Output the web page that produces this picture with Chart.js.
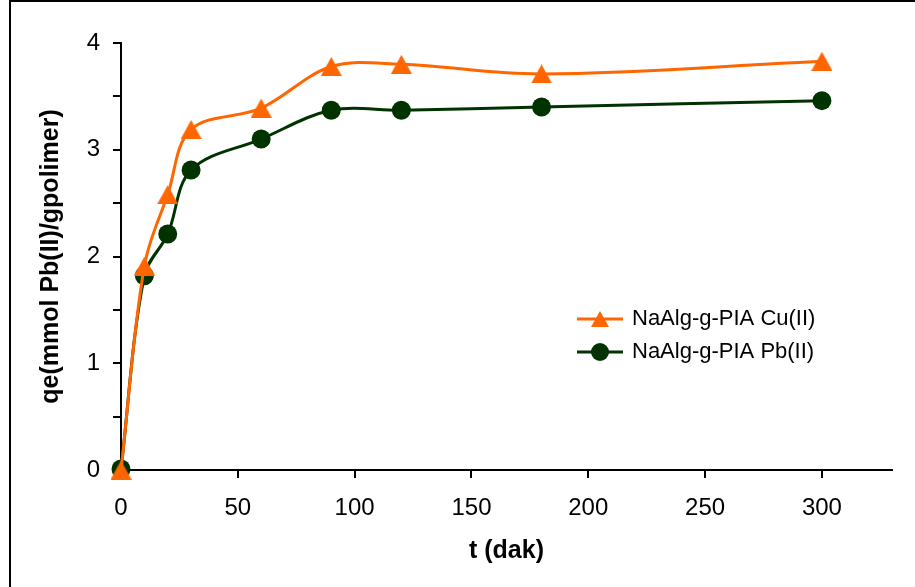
<!DOCTYPE html>
<html>
<head>
<meta charset="utf-8">
<script src="https://cdn.jsdelivr.net/npm/chart.js@4/dist/chart.umd.min.js"></script>
<style>
  html, body { margin: 0; padding: 0; background: #fff; overflow: hidden; }
  #wrap { position: relative; width: 915px; height: 587px; }
</style>
</head>
<body>
<div id="wrap"><canvas id="c" width="915" height="587"></canvas></div>
<script>
// Adsorption kinetics: uptake qe against contact time t
const times = [0, 10, 20, 30, 60, 90, 120, 180, 300];
const cuValues = [0, 1.91, 2.58, 3.19, 3.39, 3.78, 3.80, 3.71, 3.83];
const pbValues = [0.01, 1.82, 2.21, 2.81, 3.10, 3.37, 3.37, 3.40, 3.46];
const seriesNames = ['NaAlg-g-PIA Cu(II)', 'NaAlg-g-PIA Pb(II)'];
const xTickValues = [0, 50, 100, 150, 200, 250, 300];
const yTickValues = [0, 0.5, 1, 1.5, 2, 2.5, 3, 3.5, 4];
const xTitle = 't (dak)';
const yTitle = 'qe(mmol Pb(II)/gpolimer)';

const ORANGE = '#FF6600';
const GREEN = '#003300';
const FONT = '"Liberation Sans", Arial, sans-serif';

// Triangle marker centred on its bounding box
function triangleMarker(w, h, color) {
  const c = document.createElement('canvas');
  c.width = w; c.height = h;
  const g = c.getContext('2d');
  g.fillStyle = color;
  g.beginPath();
  g.moveTo(w / 2, 0);
  g.lineTo(w, h);
  g.lineTo(0, h);
  g.closePath();
  g.fill();
  return c;
}
const triBig = triangleMarker(21, 19, ORANGE);
const triSmall = triangleMarker(18, 16, ORANGE);

const toPoints = (xs, ys) => xs.map((x, i) => ({ x: x, y: ys[i] }));

// Outer frame of the figure
const framePlugin = {
  id: 'frame',
  beforeDraw(chart) {
    const ctx = chart.ctx;
    ctx.save();
    ctx.fillStyle = '#fff';
    ctx.fillRect(0, 0, chart.width, chart.height);
    ctx.fillStyle = '#000';
    ctx.fillRect(9, 0, 2, chart.height);
    ctx.fillRect(9, 0, chart.width - 9, 2);
    ctx.restore();
  }
};

// Legend: line sample with marker, then the series name
const legendPlugin = {
  id: 'lineLegend',
  afterDatasetsDraw(chart) {
    const ctx = chart.ctx;
    const x0 = 577, x1 = 623, xm = 600, tx = 632;
    const rows = [
      { y: 319, color: ORANGE, name: seriesNames[0], marker: 'tri' },
      { y: 352, color: GREEN, name: seriesNames[1], marker: 'circle' }
    ];
    ctx.save();
    rows.forEach(r => {
      ctx.strokeStyle = r.color;
      ctx.lineWidth = 3;
      ctx.beginPath();
      ctx.moveTo(x0, r.y);
      ctx.lineTo(x1, r.y);
      ctx.stroke();
      if (r.marker === 'tri') {
        ctx.drawImage(triSmall, xm - triSmall.width / 2, r.y - triSmall.height / 2);
      } else {
        ctx.fillStyle = r.color;
        ctx.beginPath();
        ctx.arc(xm, r.y, 9, 0, Math.PI * 2);
        ctx.fill();
      }
      ctx.fillStyle = '#000';
      ctx.font = '22px ' + FONT;
      ctx.textBaseline = 'middle';
      ctx.textAlign = 'left';
      ctx.fillText(r.name, tx, r.y);
    });
    ctx.restore();
  }
};

new Chart(document.getElementById('c'), {
  type: 'line',
  data: {
    datasets: [
      {
        label: seriesNames[0],
        data: toPoints(times, cuValues),
        borderColor: ORANGE,
        backgroundColor: ORANGE,
        borderWidth: 3,
        tension: 0.35,
        pointStyle: triBig,
        pointRadius: 10,
        clip: false
      },
      {
        label: seriesNames[1],
        data: toPoints(times, pbValues),
        borderColor: GREEN,
        backgroundColor: GREEN,
        borderWidth: 3,
        tension: 0.35,
        pointStyle: 'circle',
        pointRadius: 9.5,
        pointBorderWidth: 0,
        clip: false
      }
    ]
  },
  options: {
    responsive: false,
    animation: false,
    devicePixelRatio: 1,
    layout: { padding: { top: 43, right: 23, left: 0, bottom: 0 } },
    plugins: {
      legend: { display: false },
      tooltip: { enabled: false }
    },
    scales: {
      x: {
        type: 'linear',
        min: 0,
        max: 330,
        afterBuildTicks: axis => { axis.ticks = xTickValues.map(v => ({ value: v })); },
        afterFit: axis => { axis.height = 117; },
        border: { display: true, color: '#000', width: 2 },
        grid: { display: true, drawOnChartArea: false, drawTicks: true, tickLength: 8, color: '#000', lineWidth: 2 },
        ticks: { color: '#000', font: { family: FONT, size: 24 }, padding: 16, maxRotation: 0, autoSkip: false },
        title: { display: true, text: xTitle, color: '#000', font: { family: FONT, size: 25, weight: 'bold' }, padding: { top: 0, bottom: 21 } }
      },
      y: {
        type: 'linear',
        min: 0,
        max: 4,
        afterBuildTicks: axis => { axis.ticks = yTickValues.map(v => ({ value: v })); },
        afterFit: axis => { axis.width = 121; },
        border: { display: true, color: '#000', width: 2 },
        grid: { display: true, drawOnChartArea: false, drawTicks: true, tickLength: 8, color: '#000', lineWidth: 2 },
        ticks: {
          color: '#000',
          font: { family: FONT, size: 24 },
          padding: 13,
          autoSkip: false,
          callback: v => (Number.isInteger(v) ? String(v) : '')
        },
        title: { display: true, text: yTitle, color: '#000', font: { family: FONT, size: 25, weight: 'bold' }, padding: { top: 36, bottom: 0 } }
      }
    }
  },
  plugins: [framePlugin, legendPlugin]
});
</script>
</body>
</html>
